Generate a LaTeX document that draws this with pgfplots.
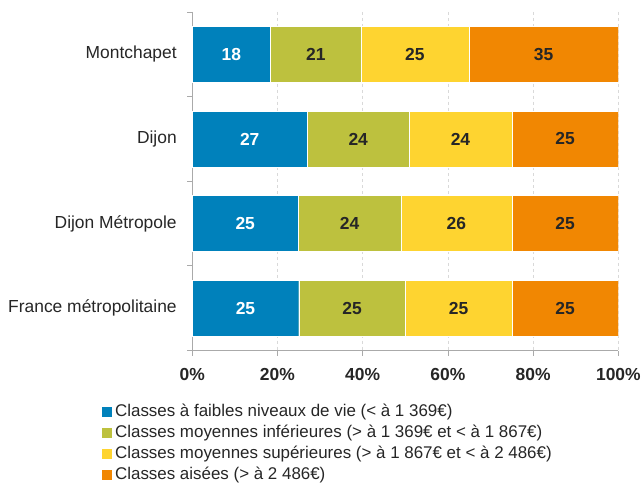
\documentclass[border=0pt]{standalone}
\usepackage{pgfplots}
\pgfplotsset{compat=1.18}
\usepackage{pgfplotstable}
\usepackage{fontspec}
\setmainfont{Liberation Sans}
\definecolor{cblue}{HTML}{0081BB}
\definecolor{cgreen}{HTML}{BDC13E}
\definecolor{cyellow}{HTML}{FED430}
\definecolor{corange}{HTML}{F18702}
\definecolor{cdark}{HTML}{262626}
\definecolor{caxis}{HTML}{AAAAAA}

\pgfplotstableread{
y a b c d la lb lc ld
0 18.4 21.2 25.3 35.1 18 21 25 35
1 27.0 23.9 24.1 25.0 27 24 24 25
2 24.9 24.1 26.0 25.0 25 24 26 25
3 25.0 25.0 25.0 25.0 25 25 25 25
}\data

\pgfplotsset{
  seg/.style n args={2}{fill=#1, draw=white, line width=0.4pt,
    nodes near coords, point meta=explicit symbolic,
    every node near coord/.append style={anchor=center, text=#2,
      font=\bfseries\fontsize{17.5}{18}\selectfont}},
}

\begin{document}
\begin{tikzpicture}
\begin{axis}[
  at={(0,0)}, anchor=south west,
  scale only axis, width=428pt, height=340pt,
  xbar stacked, bar width=56pt,
  xmin=0, xmax=100, ymin=-0.5, ymax=3.5, y dir=reverse,
  xtick={0,20,...,100},
  xticklabel={\pgfmathprintnumber{\tick}\%},
  /pgf/number format/assume math mode=true,
  xticklabel style={font=\bfseries\fontsize{17.5}{18}\selectfont, text=cdark, yshift=-9pt},
  ytick={-0.5,0.5,...,3.5},
  y tick label as interval,
  yticklabels={Montchapet, Dijon, Dijon Métropole, France métropolitaine},
  yticklabel style={font=\fontsize{17.5}{20}\selectfont, text=cdark, xshift=-7pt},
  axis x line*=bottom, axis y line*=left,
  axis line style={-, caxis, line width=0.8pt},
  tick align=outside, major tick length=5pt,
  tick style={caxis, line width=0.8pt},
  xmajorgrids, major grid style={dashed, gray!30, line width=0.6pt},
  legend style={at={(0,0)}, anchor=north west, xshift=-92pt, yshift=-52.5pt,
    draw=none, fill=none, inner sep=0pt,
    font=\fontsize{17}{20}\selectfont, text=cdark,
    nodes={inner sep=1pt, text height=13pt, text depth=4pt},
    row sep=2pt,
    /tikz/every odd column/.append style={column sep=2pt}},
  legend cell align=left,
  legend image code/.code={\fill[#1] (0pt,-5pt) rectangle (11pt,6pt);},
]
\addplot[seg={cblue}{white}] table[x=a, y=y, meta=la] {\data};
\addplot[seg={cgreen}{cdark}] table[x=b, y=y, meta=lb] {\data};
\addplot[seg={cyellow}{cdark}] table[x=c, y=y, meta=lc] {\data};
\addplot[seg={corange}{cdark}] table[x=d, y=y, meta=ld] {\data};
\legend{Classes à faibles niveaux de vie (< à 1 369€),
  Classes moyennes inférieures (> à 1 369€ et < à 1 867€),
  Classes moyennes supérieures (> à 1 867€ et < à 2 486€),
  Classes aisées (> à 2 486€)}
\end{axis}
\path (-193pt,-132pt) rectangle (451pt,352pt);
\end{tikzpicture}
\end{document}
